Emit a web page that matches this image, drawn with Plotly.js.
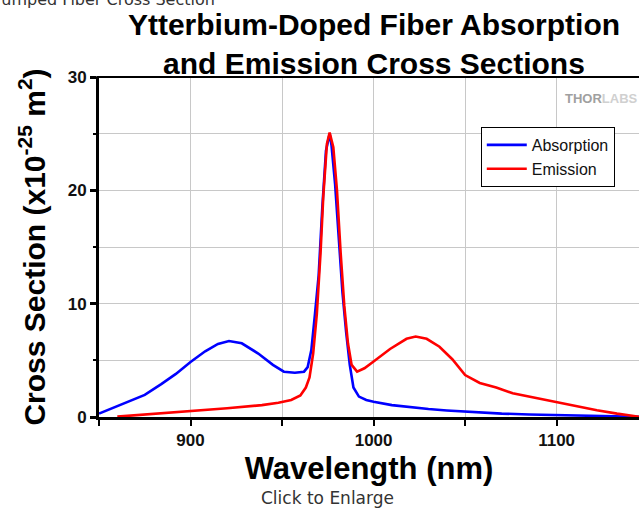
<!DOCTYPE html>
<html>
<head>
<meta charset="utf-8">
<script src="https://cdn.plot.ly/plotly-3.0.1.min.js"></script>
<style>
  html, body { margin: 0; padding: 0; background: #fff; }
  #chart { width: 639px; height: 510px; }
</style>
</head>
<body>
<div id="chart"></div>
<script>
// Wavelength (nm) and cross sections (x10^-25 m^2)
const absWavelength = [850, 858, 866, 875, 884, 892, 900, 908, 915, 921, 928, 937, 945, 951, 957, 962, 964, 966, 968, 970, 972, 974, 976, 977, 979, 981, 983, 985, 987, 989, 992, 996, 1000, 1010, 1020, 1030, 1040, 1055, 1070, 1085, 1100, 1115, 1130, 1145];
const absorption    = [0.3, 0.85, 1.35, 1.95, 2.9, 3.8, 4.85, 5.8, 6.45, 6.7, 6.5, 5.6, 4.6, 4.0, 3.9, 4.0, 4.4, 5.9, 9.1, 12.5, 18.5, 23.5, 25.0, 24.0, 20.5, 16.0, 11.0, 7.5, 4.6, 2.6, 1.8, 1.5, 1.35, 1.05, 0.85, 0.7, 0.58, 0.42, 0.3, 0.22, 0.16, 0.1, 0.05, 0.02];

const emWavelength = [860, 870, 884, 902, 920, 939, 948, 955, 960, 963, 965, 967, 969, 971, 972.5, 974.5, 976, 978, 980, 982, 984, 986, 988, 991, 995, 1000, 1009, 1018, 1023, 1029, 1036, 1043, 1050, 1058, 1067, 1076, 1088, 1100, 1112, 1122, 1133, 1145];
const emission     = [0.03, 0.15, 0.33, 0.55, 0.77, 1.05, 1.25, 1.5, 1.9, 2.6, 3.5, 5.6, 9.1, 14.4, 19.4, 24.1, 25.1, 23.8, 20.0, 14.5, 9.8, 6.5, 4.6, 4.0, 4.3, 4.9, 6.0, 6.9, 7.1, 6.9, 6.2, 5.1, 3.7, 3.0, 2.6, 2.1, 1.7, 1.3, 0.9, 0.6, 0.3, 0.02];

const seriesNames = ["Absorption", "Emission"];
const xTickVals = [900, 1000, 1100];
const yTickVals = [0, 10, 20, 30];

const FONT = "Liberation Sans, Arial, sans-serif";

const traces = [
  { x: absWavelength, y: absorption, name: seriesNames[0], type: "scatter", mode: "lines",
    line: { color: "#0000ff", width: 2.6 } },
  { x: emWavelength, y: emission, name: seriesNames[1], type: "scatter", mode: "lines",
    line: { color: "#ff0000", width: 2.6 } }
];

const layout = {
  width: 639, height: 510,
  margin: { l: 99, r: 0, t: 77, b: 93 },
  paper_bgcolor: "#ffffff", plot_bgcolor: "#ffffff",
  font: { family: FONT, color: "#111" },
  title: {
    text: "Ytterbium-Doped Fiber Absorption<br>and Emission Cross Sections",
    font: { family: FONT, size: 30, weight: "bold", color: "#000" },
    x: 374 / 639, xref: "container", xanchor: "center",
    y: 1 - 35 / 510, yref: "container", yanchor: "top"
  },
  xaxis: {
    range: [850, 1145],
    tickvals: xTickVals,
    ticks: "outside", ticklen: 6, tickwidth: 2, tickcolor: "#000",
    showline: true, linecolor: "#000", linewidth: 3,
    showgrid: true, gridcolor: "#c8c8c8", gridwidth: 1,
    zeroline: false,
    tickfont: { family: FONT, size: 17, weight: "bold", color: "#111" },
    minor: { dtick: 50, tick0: 850, ticks: "outside", ticklen: 6, tickwidth: 2, tickcolor: "#000",
             showgrid: true, gridcolor: "#c8c8c8", gridwidth: 1 },
    title: { text: "Wavelength (nm)", font: { family: FONT, size: 31, weight: "bold", color: "#000" }, standoff: 8 }
  },
  yaxis: {
    range: [0, 30],
    tickvals: yTickVals,
    ticks: "outside", ticklen: 6, tickwidth: 3, tickcolor: "#000",
    showline: true, linecolor: "#000", linewidth: 3,
    showgrid: true, gridcolor: "#c8c8c8", gridwidth: 1,
    zeroline: false,
    tickfont: { family: FONT, size: 17, weight: "bold", color: "#111" },
    minor: { dtick: 5, tick0: 0, ticks: "outside", ticklen: 3, tickwidth: 2, tickcolor: "#000",
             showgrid: true, gridcolor: "#c8c8c8", gridwidth: 1 },
    title: { text: "Cross Section (x10<sup>-25</sup> m<sup>2</sup>)",
             font: { family: FONT, size: 30, weight: "bold", color: "#000" }, standoff: 14 }
  },
  legend: {
    x: 0.707, y: 0.853, xanchor: "left", yanchor: "top",
    bgcolor: "#ffffff", bordercolor: "#000", borderwidth: 1,
    font: { family: FONT, size: 16, color: "#111" },
    itemwidth: 40,
    tracegroupgap: 0
  },
  shapes: [
    { type: "line", xref: "paper", yref: "paper", x0: -0.005, x1: 1, y0: 1, y1: 1,
      line: { color: "#000", width: 2 } }
  ],
  annotations: [
    { text: "<b>THOR</b><b><span style='color:#d0d0d0'>LABS</span></b>", xref: "paper", yref: "paper",
      x: (563 - 99) / 540, y: (417 - 98) / 340, xanchor: "left", yanchor: "middle", showarrow: false,
      font: { family: FONT, size: 13, color: "#a0a0a0" } },
    { text: "Click to Enlarge", xref: "paper", yref: "paper",
      x: (327 - 99) / 540, y: (417 - 498) / 340, xanchor: "center", yanchor: "middle", showarrow: false,
      font: { family: "DejaVu Sans, sans-serif", size: 17, color: "#333" } },
    { text: "Pumped Fiber Cross Section", xref: "paper", yref: "paper",
      x: (-10 - 99) / 540, y: (417 + 0) / 340, xanchor: "left", yanchor: "middle", showarrow: false,
      font: { family: "DejaVu Sans, sans-serif", size: 16, color: "#333" } }
  ]
};

Plotly.newPlot("chart", traces, layout, { displayModeBar: false, staticPlot: true });
</script>
</body>
</html>
